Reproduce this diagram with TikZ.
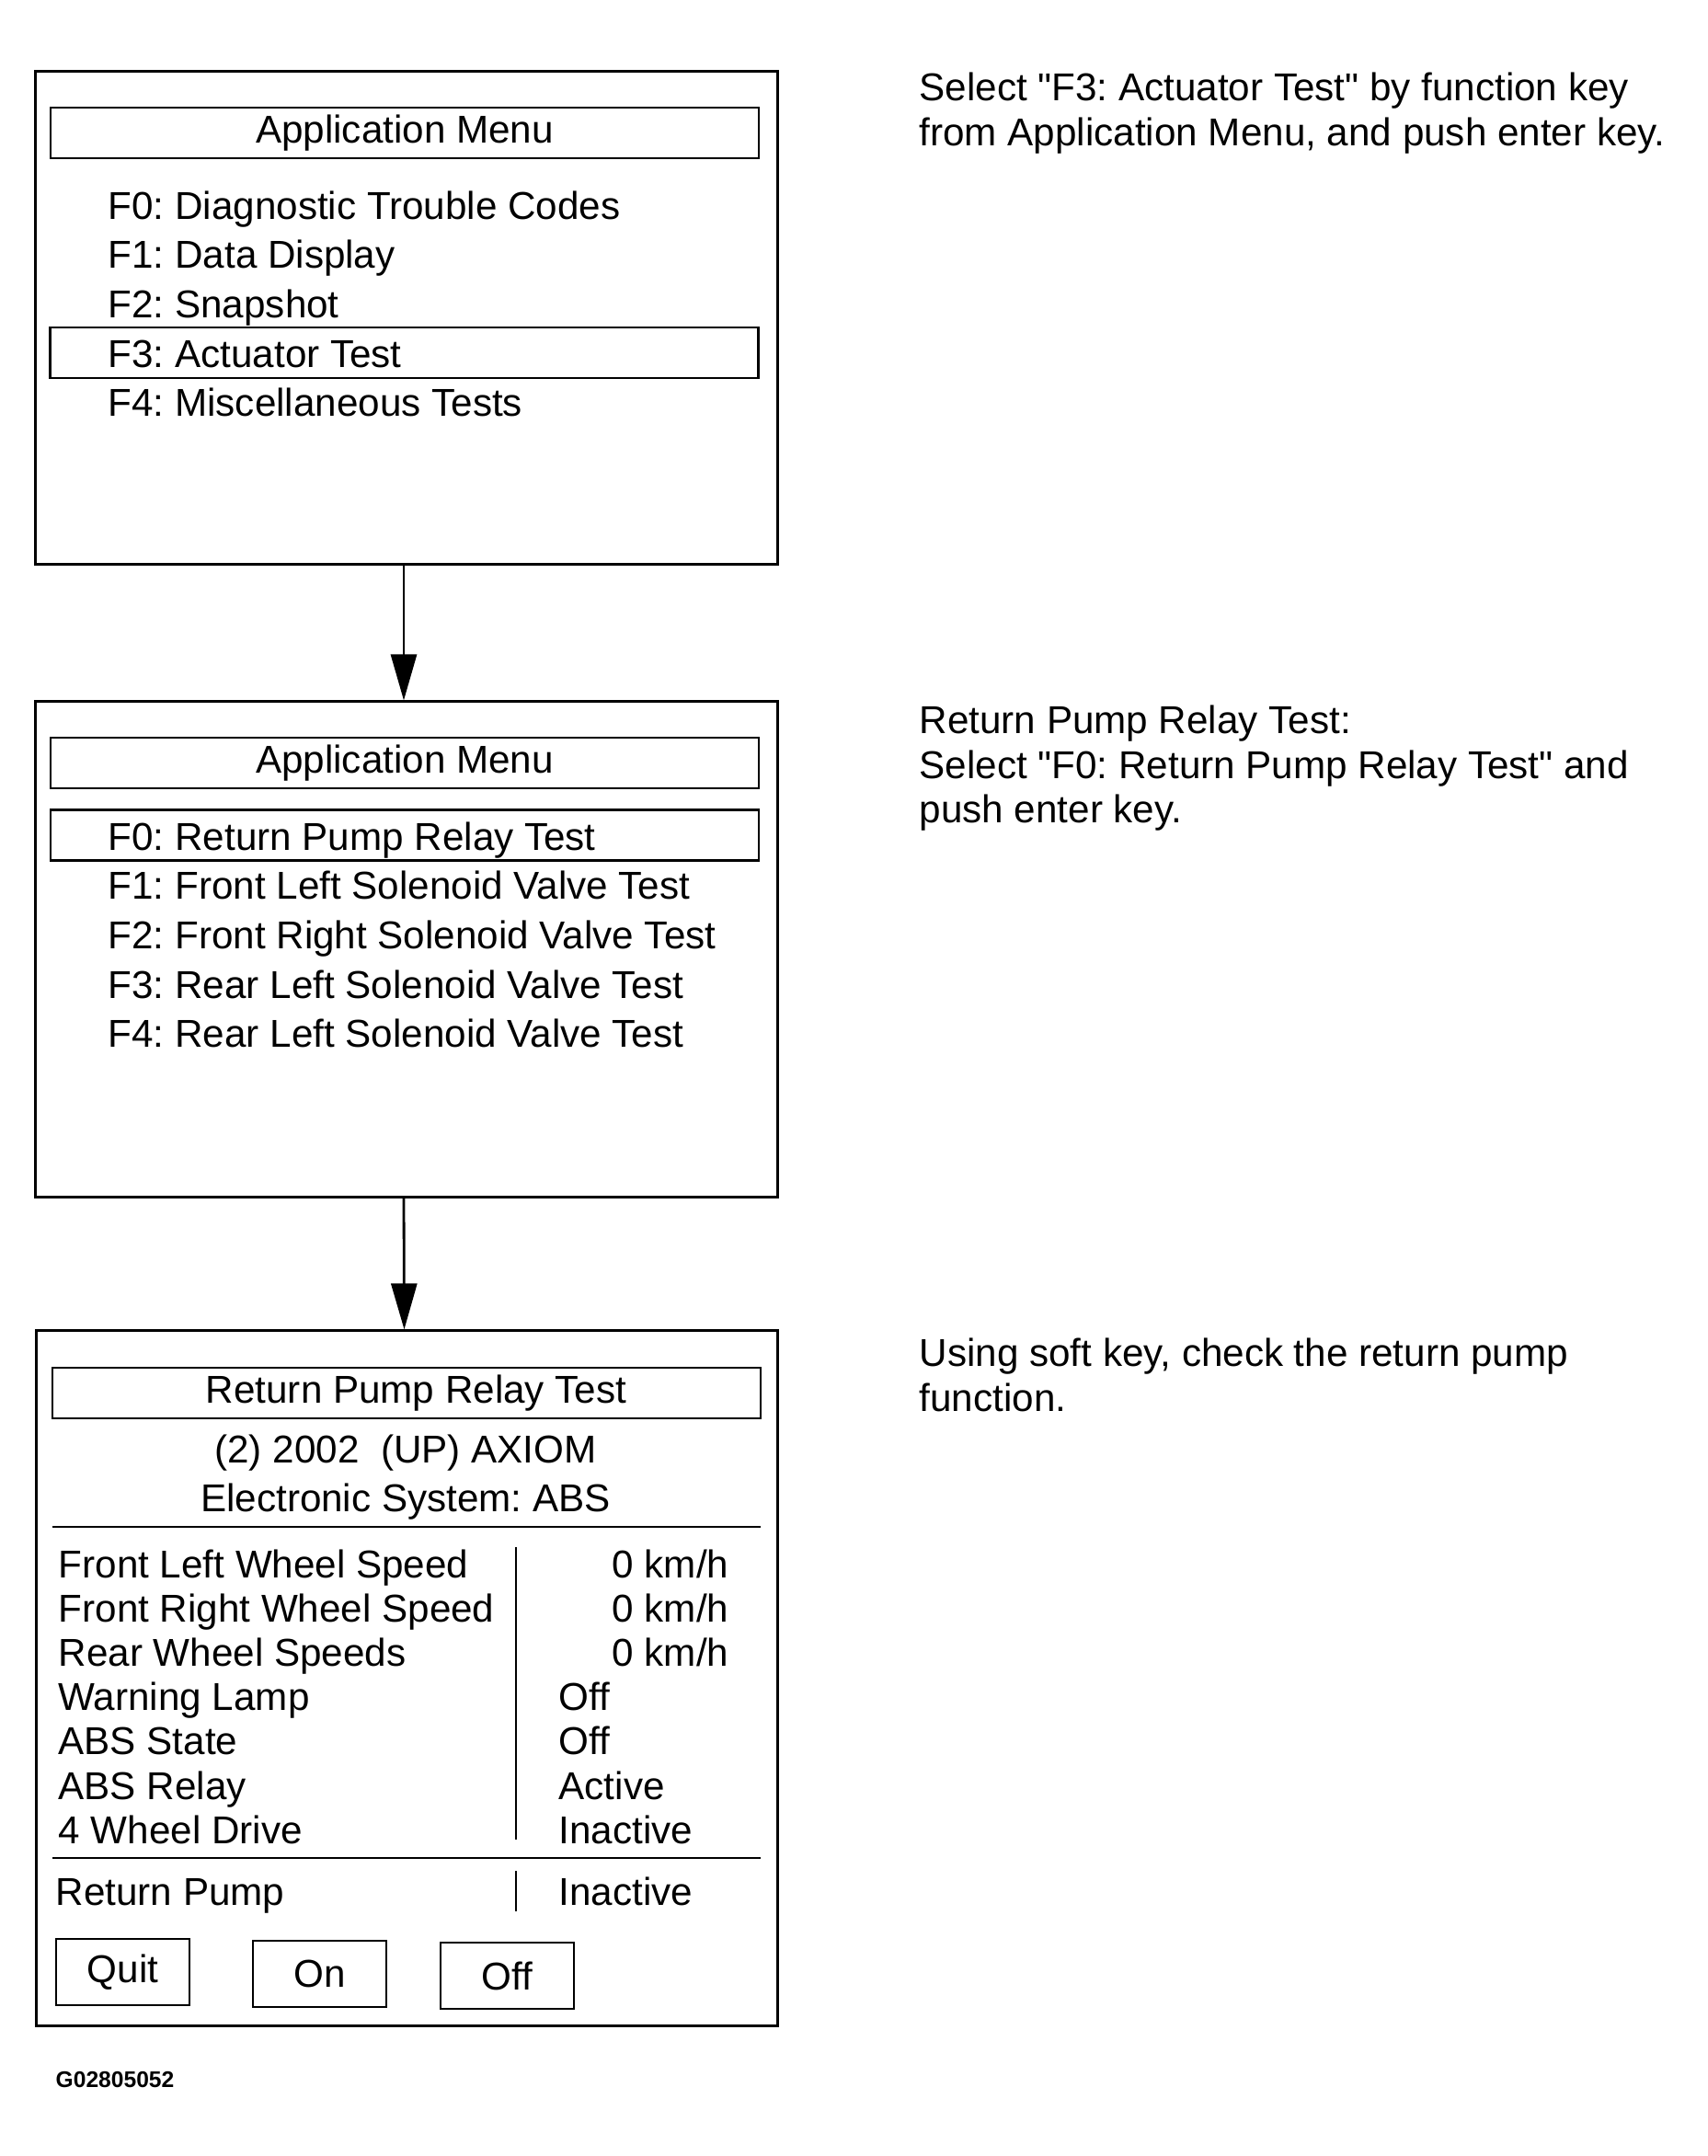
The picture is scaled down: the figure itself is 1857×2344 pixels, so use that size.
\documentclass[tikz,border=0pt]{standalone}
\usepackage{fontspec}
\setmainfont{Liberation Sans}[Ligatures=TeXOff]
\usetikzlibrary{arrows.meta}
\frenchspacing

\begin{document}
\begin{tikzpicture}[x=0.01cm, y=-0.01cm,
    every node/.style={font=\fontsize{12pt}{14pt}\selectfont, inner sep=0pt},
    screen/.style={draw, line width=0.8pt, minimum width=8.06cm},
    bar/.style={draw, line width=0.7pt, minimum width=7.7cm, minimum height=0.55cm,
                text height=8.6pt, text depth=2.5pt},
    keybox/.style={draw, line width=0.7pt, minimum width=1.45cm, minimum height=0.72cm},
    flow/.style={line width=0.8pt, -{Triangle[length=5mm,width=2.8mm]}}]

      % Definitions
      \def\dy{53.7}   % Line pitch of the menu lists
      \def\ry{48.2}   % Line pitch of the data rows
      \def\nx{999}    % Left edge of the notes on the right

      \useasboundingbox (0,0) rectangle (1857,2344);

      % Screens
      \node [screen, minimum height=5.35cm] (scr1) at (442,345.5) {};
      \node [screen, minimum height=5.38cm] (scr2) at (442,1032) {};
      \node [screen, minimum height=7.55cm] (scr3) at (442.5,1824.5) {};

      \draw [flow] ([xshift=-0.3mm]scr1.south) -- ([xshift=-0.3mm]scr2.north);
      \draw [flow] ([xshift=-0.3mm]scr2.south) -- ([xshift=-0.3mm]scr3.north);

      % Screen 1: application menu
      \node [bar] (title1) at (440,144.5) {Application Menu};
      \node [bar] (sel1) at (439.5,383.5) {};     % Highlight of the selected item
      \foreach \i/\txt in {0/Diagnostic Trouble Codes, 1/Data Display, 2/Snapshot,
                           3/Actuator Test, 4/Miscellaneous Tests}
        \node [anchor=base west] (menuA\i) at (117,{238+\i*\dy}) {F\i: \txt};

      % Screen 2: actuator tests
      \node [bar] (title2) at (440,829.5) {Application Menu};
      \node [bar] (sel2) at (440,908) {};
      \foreach \i/\txt in {0/Return Pump Relay Test, 1/Front Left Solenoid Valve Test,
                           2/Front Right Solenoid Valve Test, 3/Rear Left Solenoid Valve Test,
                           4/Rear Left Solenoid Valve Test}
        \node [anchor=base west] (menuB\i) at (117,{924+\i*\dy}) {F\i: \txt};

      % Screen 3: relay test
      \node [bar] (title3) at (442,1514.5) {\hspace{6pt}Return Pump Relay Test};
      \node (model) at (441,1580) {(2) 2002~~(UP) AXIOM};
      \node (system) at (441,1633) {Electronic System: ABS};
      \draw [line width=0.7pt] (57,1660) -- (827,1660);

      \foreach \i/\lbl in {0/Front Left Wheel Speed, 1/Front Right Wheel Speed,
                           2/Rear Wheel Speeds, 3/Warning Lamp, 4/ABS State,
                           5/ABS Relay, 6/4 Wheel Drive}
        \node [anchor=base west] (row\i) at (63,{1715+\i*\ry}) {\lbl};
      \foreach \i in {0,1,2}
        \node [anchor=base east] (val\i) at (793,{1715+\i*\ry}) {0 km/h};
      \foreach \i/\val in {3/Off, 4/Off, 5/Active, 6/Inactive}
        \node [anchor=base west] (val\i) at (607,{1715+\i*\ry}) {\val};
      \draw (561,1682) -- (561,2000);             % Column divider

      \draw [line width=0.7pt] (57,2020) -- (827,2020);
      \node [anchor=base west] (pump) at (60,2071) {Return Pump};
      \node [anchor=base west] (pumpval) at (607,2071) {Inactive};
      \draw (561,2034) -- (561,2078);

      % Soft keys
      \node [keybox] (quit) at (133.5,2144) {Quit};
      \node [keybox] (on) at (347.5,2146) {On};
      \node [keybox] (off) at (551.5,2148) {Off};

      \node [anchor=base west, font=\fontsize{7pt}{8pt}\selectfont\bfseries] (code) at (60,2269) {G02805052};

      % Notes
      \node [anchor=base west] (note1a) at (\nx,109) {Select "F3: Actuator Test" by function key};
      \node [anchor=base west] (note1b) at (\nx,158) {from Application Menu, and push enter key.};
      \node [anchor=base west] (note2a) at (\nx,797) {Return Pump Relay Test:};
      \node [anchor=base west] (note2b) at (\nx,846) {Select "F0: Return Pump Relay Test" and};
      \node [anchor=base west] (note2c) at (\nx,894) {push enter key.};
      \node [anchor=base west] (note3a) at (\nx,1485) {Using soft key, check the return pump};
      \node [anchor=base west] (note3b) at (\nx,1534) {function.};

   \end{tikzpicture}
\end{document}
